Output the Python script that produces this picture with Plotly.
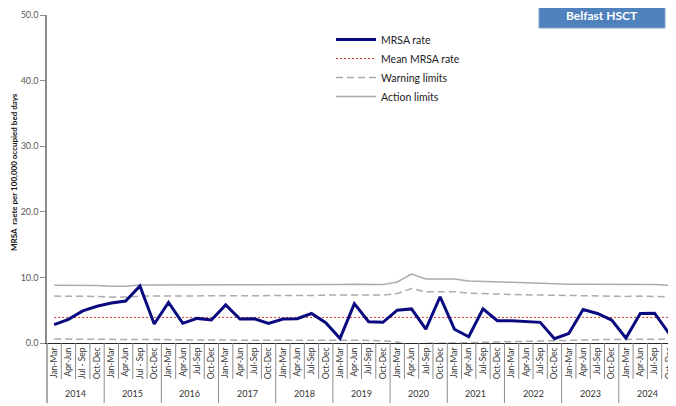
import plotly.graph_objects as go

years = ["2014", "2015", "2016", "2017", "2018", "2019", "2020", "2021", "2022", "2023", "2024"]
quarter_labels = (
    ["Jan-Mar", "Apr-Jun", "Jul - Sep", "Oct-Dec"] * 2
    + ["Jan-Mar", "Apr-Jun", "Jul-Sep", "Oct-Dec"] * 9
)

mrsa_rate = [
    2.8, 3.6, 4.9, 5.6,
    6.1, 6.4, 8.7, 2.9,
    6.2, 3.0, 3.75, 3.5,
    5.8, 3.65, 3.7, 3.0,
    3.65, 3.7, 4.5, 3.1,
    0.7, 6.0, 3.25, 3.15,
    5.0, 5.2, 2.1, 7.05,
    2.1, 0.95, 5.2, 3.4,
    3.4, 3.3, 3.15, 0.65,
    1.45, 5.1, 4.5, 3.5,
    0.75, 4.5, 4.55, 1.5,
]
mean_rate = [3.9] * 44
upper_action = [
    8.8, 8.8, 8.8, 8.75,
    8.65, 8.65, 8.85, 8.85,
    8.8, 8.85, 8.85, 8.85,
    8.85, 8.9, 8.9, 8.9,
    8.9, 8.9, 8.9, 8.9,
    8.9, 8.95, 8.95, 8.9,
    9.3, 10.5, 9.75, 9.75,
    9.75, 9.45, 9.35, 9.3,
    9.25, 9.2, 9.1, 9.0,
    8.95, 8.95, 8.95, 8.85,
    8.85, 8.9, 8.9, 8.8,
]
upper_warning = [
    7.15, 7.15, 7.15, 7.1,
    7.0, 7.0, 7.15, 7.15,
    7.15, 7.2, 7.25, 7.25,
    7.25, 7.25, 7.25, 7.25,
    7.25, 7.25, 7.25, 7.3,
    7.3, 7.3, 7.3, 7.3,
    7.55, 8.3, 7.8, 7.8,
    7.8, 7.6, 7.5, 7.45,
    7.4, 7.35, 7.3, 7.25,
    7.2, 7.2, 7.2, 7.15,
    7.1, 7.15, 7.15, 7.05,
]
lower_warning = [
    0.6, 0.6, 0.6, 0.6,
    0.6, 0.6, 0.55, 0.55,
    0.55, 0.5, 0.45, 0.45,
    0.5, 0.5, 0.5, 0.5,
    0.5, 0.5, 0.5, 0.5,
    0.45, 0.4, 0.4, 0.35,
    0.15, -0.5, -0.05, -0.05,
    0.0, 0.15, 0.2, 0.25,
    0.3, 0.35, 0.4, 0.45,
    0.5, 0.5, 0.5, 0.55,
    0.55, 0.55, 0.55, 0.6,
]
y_ticks = [0, 10, 20, 30, 40, 50]

FONT = "Lato"
n = len(quarter_labels)
xs = list(range(n))

fig = go.Figure()
grey = "#ABABAB"
fig.add_trace(go.Scatter(x=xs, y=upper_action, mode="lines", name="Action limits",
                         line=dict(color=grey, width=1.5), legendrank=4))
fig.add_trace(go.Scatter(x=xs, y=upper_warning, mode="lines", name="Warning limits",
                         legendgroup="warn", line=dict(color=grey, width=1.5, dash="7px,4px"),
                         legendrank=3))
fig.add_trace(go.Scatter(x=xs, y=lower_warning, mode="lines", name="Warning limits",
                         legendgroup="warn", showlegend=False,
                         line=dict(color=grey, width=1.5, dash="7px,4px")))
fig.add_trace(go.Scatter(x=xs, y=mean_rate, mode="lines", name="Mean MRSA rate",
                         line=dict(color="#C0392B", width=1, dash="2px,2px"), legendrank=2))
fig.add_trace(go.Scatter(x=xs, y=mrsa_rate, mode="lines", name="MRSA rate",
                         line=dict(color="#0A0A80", width=3), legendrank=1))

# The page body has an 8px margin, so the figure is drawn 8px smaller and
# the reference pixel positions are offset by 8.
OFF = 8
W, H = 676 - OFF, 406 - OFF
L, R, T, B = 47 - OFF, 0, 15 - OFF, 406 - 343
pw, ph = W - L - R, H - T - B

def py(pix):
    return (343 - pix) / ph

def px(pix):
    return (pix - 47) / pw

shapes = []
sep_col = "#8C8C8C"
for b in range(1, n):
    xp = b / n
    bottom = py(403) if b % 4 == 0 else py(379)
    shapes.append(dict(type="line", xref="paper", yref="paper", x0=xp, x1=xp,
                       y0=0, y1=bottom, line=dict(color=sep_col, width=1)))
shapes.append(dict(type="line", xref="paper", yref="paper", x0=0, x1=0,
                   y0=0, y1=py(403), line=dict(color=sep_col, width=1.5)))
shapes.append(dict(type="rect", xref="paper", yref="paper",
                   x0=px(539), x1=px(665), y0=py(28), y1=py(2),
                   fillcolor="#4F81BD", line=dict(color="#7FA3D0", width=1)))

annotations = []
for k, yr in enumerate(years):
    annotations.append(dict(x=4 * k + 1.5, xref="x", y=py(393), yref="paper",
                            text=yr, showarrow=False, xanchor="center", yanchor="middle",
                            font=dict(family=FONT, size=9, color="#333333")))
annotations.append(dict(x=px((539 + 665) / 2), y=py(15), xref="paper", yref="paper",
                        text="<b>Belfast HSCT</b>", showarrow=False,
                        xanchor="center", yanchor="middle",
                        font=dict(family=FONT, size=12, color="white")))
annotations.append(dict(x=px(14), y=py(172), xref="paper", yref="paper",
                        text="<b>MRSA  raete per 100,000 occupied bed days</b>",
                        textangle=-90, showarrow=False, xanchor="center", yanchor="middle",
                        font=dict(family=FONT, size=8, color="#111111")))

fig.update_layout(
    width=W, height=H,
    margin=dict(l=L, r=R, t=T, b=B),
    paper_bgcolor="white", plot_bgcolor="white",
    font=dict(family=FONT, color="#404040"),
    showlegend=True,
    legend=dict(x=px(331), y=py(25), xanchor="left", yanchor="top",
                bgcolor="rgba(0,0,0,0)", font=dict(family=FONT, size=10.5, color="#222222"),
                tracegroupgap=0, itemwidth=40),
    xaxis=dict(range=[-0.5, n - 0.5], tickmode="array", tickvals=xs, ticktext=quarter_labels,
               tickangle=-90, showgrid=False, zeroline=False, showline=True,
               linecolor="#262626", linewidth=1, ticks="",
               tickfont=dict(family=FONT, size=8.5, color="#333333")),
    yaxis=dict(range=[0, 50], tickvals=y_ticks, tickformat=".1f", showgrid=False,
               zeroline=False, showline=True, linecolor="#8C8C8C", linewidth=1.5,
               ticks="outside", ticklen=5, tickcolor="#8C8C8C",
               tickfont=dict(family=FONT, size=9, color="#595959")),
    shapes=shapes,
    annotations=annotations,
)

fig.write_html("out.html")
